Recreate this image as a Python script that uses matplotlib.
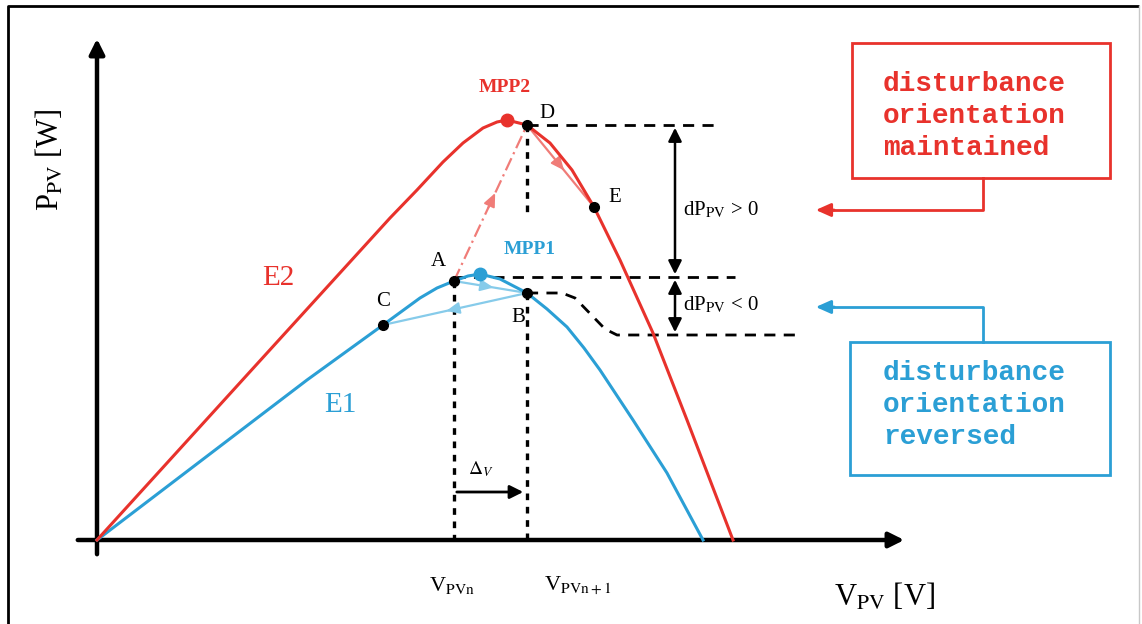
"""
Perturb & Observe sketch: P-V curves E1 / E2 with the disturbance steps.
Coordinates are in diagram units (V to the right, P upwards, origin at the axes cross).
"""
import matplotlib
matplotlib.use("Agg")
import matplotlib.pyplot as plt

plt.rcParams["font.family"] = ["Liberation Serif", "DejaVu Serif"]
plt.rcParams["mathtext.fontset"] = "stix"

RED = "#e8322c"
BLUE = "#2b9fd5"
LRED = "#f07c78"
LBLUE = "#86cbea"

# P-V curves
E1_V = [0, 210, 286, 323, 340, 357, 371, 383, 403, 430, 450, 470, 487, 503, 536, 570, 606]
E1_P = [0, 160, 215, 242, 252, 259, 264, 266, 261, 247, 231, 213, 192, 170, 120, 67, 0]
E2_V = [0, 150, 293, 320, 346, 366, 386, 400, 410, 430, 453, 475, 497, 523, 556, 590, 636]
E2_P = [0, 165, 322, 350, 378, 397, 412, 418, 420, 415, 397, 370, 333, 280, 207, 120, 0]

# operating points
PTS = {"A": (357, 259), "B": (430, 247), "C": (286, 215), "D": (430, 415), "E": (497, 333)}
MPP1 = (383, 266)
MPP2 = (410, 420)

fig = plt.figure(figsize=(11.42, 6.24), dpi=100)
ax = fig.add_axes([0, 0, 1, 1])
ax.set_xlim(-97, 1045)
ax.set_ylim(-84, 540)
ax.axis("off")

# outer frame
ax.plot([-89, -89, 1042], [-84, 534, 534], color="black", lw=2, solid_capstyle="butt")
ax.plot([1042, 1042], [534, -84], color="#c8c8c8", lw=1)

# axes arrows
ax.annotate("", xy=(0, 504), xytext=(0, -17),
            arrowprops=dict(arrowstyle="-|>,head_length=0.9,head_width=0.45", lw=3.2, color="black"))
ax.annotate("", xy=(810, 0), xytext=(-22, 0),
            arrowprops=dict(arrowstyle="-|>,head_length=0.9,head_width=0.45", lw=3.2, color="black"))

# curves
ax.plot(E1_V, E1_P, color=BLUE, lw=2.2, zorder=3, solid_joinstyle="round")
ax.plot(E2_V, E2_P, color=RED, lw=2.2, zorder=3, solid_joinstyle="round")

# dashed guide lines
A, B, D = PTS["A"], PTS["B"], PTS["D"]
dot = dict(color="black", lw=2.4, ls=(0, (2, 2)), zorder=2)
dash = dict(color="black", lw=2.0, ls=(0, (4, 3)), zorder=2)
ax.plot([A[0], A[0]], [A[1], 0], **dot)
ax.plot([B[0], B[0]], [B[1], 0], **dot)
ax.plot([D[0], D[0]], [D[1], 325], **dot)
ax.plot([D[0], 623], [D[1], D[1]], **dash)
ax.plot([A[0], 638], [263, 263], **dash)
ax.plot([B[0], 465, 478, 508, 520, 703], [B[1], 247, 242, 211, 205, 205], **dash)

# dP double arrows
dbl = dict(arrowstyle="<|-|>,head_length=0.8,head_width=0.4", lw=1.8, color="black")
ax.annotate("", xy=(578, 415), xytext=(578, 263), arrowprops=dbl)
ax.annotate("", xy=(578, 263), xytext=(578, 205), arrowprops=dbl)


def mid_arrow(p0, p1, color, ls="-"):
    ax.plot([p0[0], p1[0]], [p0[1], p1[1]], color=color, lw=1.6, ls=ls, zorder=2)
    mx, my = (p0[0] + p1[0]) / 2, (p0[1] + p1[1]) / 2
    ax.annotate("", xy=(mx + (p1[0] - p0[0]) * 0.08, my + (p1[1] - p0[1]) * 0.08),
                xytext=(mx - (p1[0] - p0[0]) * 0.05, my - (p1[1] - p0[1]) * 0.05),
                arrowprops=dict(arrowstyle="-|>,head_length=0.8,head_width=0.35", lw=1.4,
                                color=color), zorder=2)


mid_arrow(A, D, LRED, ls=(0, (6, 2, 1, 2)))
mid_arrow(D, PTS["E"], LRED)
mid_arrow(A, B, LBLUE)
mid_arrow(B, PTS["C"], LBLUE)

# Delta V arrow
ax.annotate("", xy=(429, 48), xytext=(357, 48),
            arrowprops=dict(arrowstyle="-|>,head_length=0.8,head_width=0.4", lw=2, color="black"))
ax.text(384, 71, r"$\Delta_V$", fontsize=14, ha="center", va="center")

# points
for name, (v, p) in PTS.items():
    ax.plot(v, p, "o", color="black", ms=7, zorder=5)
ax.plot(*MPP1, "o", color=BLUE, ms=9, zorder=4)
ax.plot(*MPP2, "o", color=RED, ms=9, zorder=4)

lbl = dict(fontsize=15, ha="center", va="center")
ax.text(341, 278, "A", **lbl)
ax.text(421, 222, "B", **lbl)
ax.text(286, 238, "C", **lbl)
ax.text(450, 427, "D", **lbl)
ax.text(518, 342, "E", **lbl)
ax.text(408, 452, "MPP2", color=RED, fontsize=14, fontweight="bold", ha="center", va="center")
ax.text(433, 290, "MPP1", color=BLUE, fontsize=14, fontweight="bold", ha="center", va="center")
ax.text(181, 262, "E2", color=RED, fontsize=21, ha="center", va="center")
ax.text(243, 135, "E1", color=BLUE, fontsize=21, ha="center", va="center")

ax.text(586, 330, r"dP$_{\mathrm{PV}}$ > 0", fontsize=15, ha="left", va="center")
ax.text(586, 235, r"dP$_{\mathrm{PV}}$ < 0", fontsize=15, ha="left", va="center")

ax.text(355, -46, r"V$_{\mathrm{PVn}}$", fontsize=16, ha="center", va="center")
ax.text(481, -46, r"V$_{\mathrm{PVn+1}}$", fontsize=16, ha="center", va="center")
ax.text(787, -57, r"V$_{\mathrm{PV}}$ [V]", fontsize=22, ha="center", va="center")
ax.text(-47, 380, r"P$_{\mathrm{PV}}$ [W]", fontsize=22, ha="center", va="center", rotation=90)

# annotation boxes
box_kw = dict(fill=False, lw=2)
ax.add_patch(plt.Rectangle((755, 362), 258, 135, edgecolor=RED, **box_kw))
ax.add_patch(plt.Rectangle((753, 65), 260, 133, edgecolor=BLUE, **box_kw))
mono = dict(family=["Liberation Mono", "DejaVu Sans Mono"], fontsize=20, fontweight="bold",
            ha="left", va="center", linespacing=1.3)
ax.text(786, 424, "disturbance\norientation\nmaintained", color=RED, **mono)
ax.text(786, 135, "disturbance\norientation\nreversed", color=BLUE, **mono)

ax.plot([886, 886, 730], [362, 330, 330], color=RED, lw=2)
ax.annotate("", xy=(716, 330), xytext=(740, 330),
            arrowprops=dict(arrowstyle="-|>,head_length=0.9,head_width=0.4", lw=2, color=RED))
ax.plot([886, 886, 730], [198, 233, 233], color=BLUE, lw=2)
ax.annotate("", xy=(716, 233), xytext=(740, 233),
            arrowprops=dict(arrowstyle="-|>,head_length=0.9,head_width=0.4", lw=2, color=BLUE))

fig.savefig("out.png", dpi=100)
